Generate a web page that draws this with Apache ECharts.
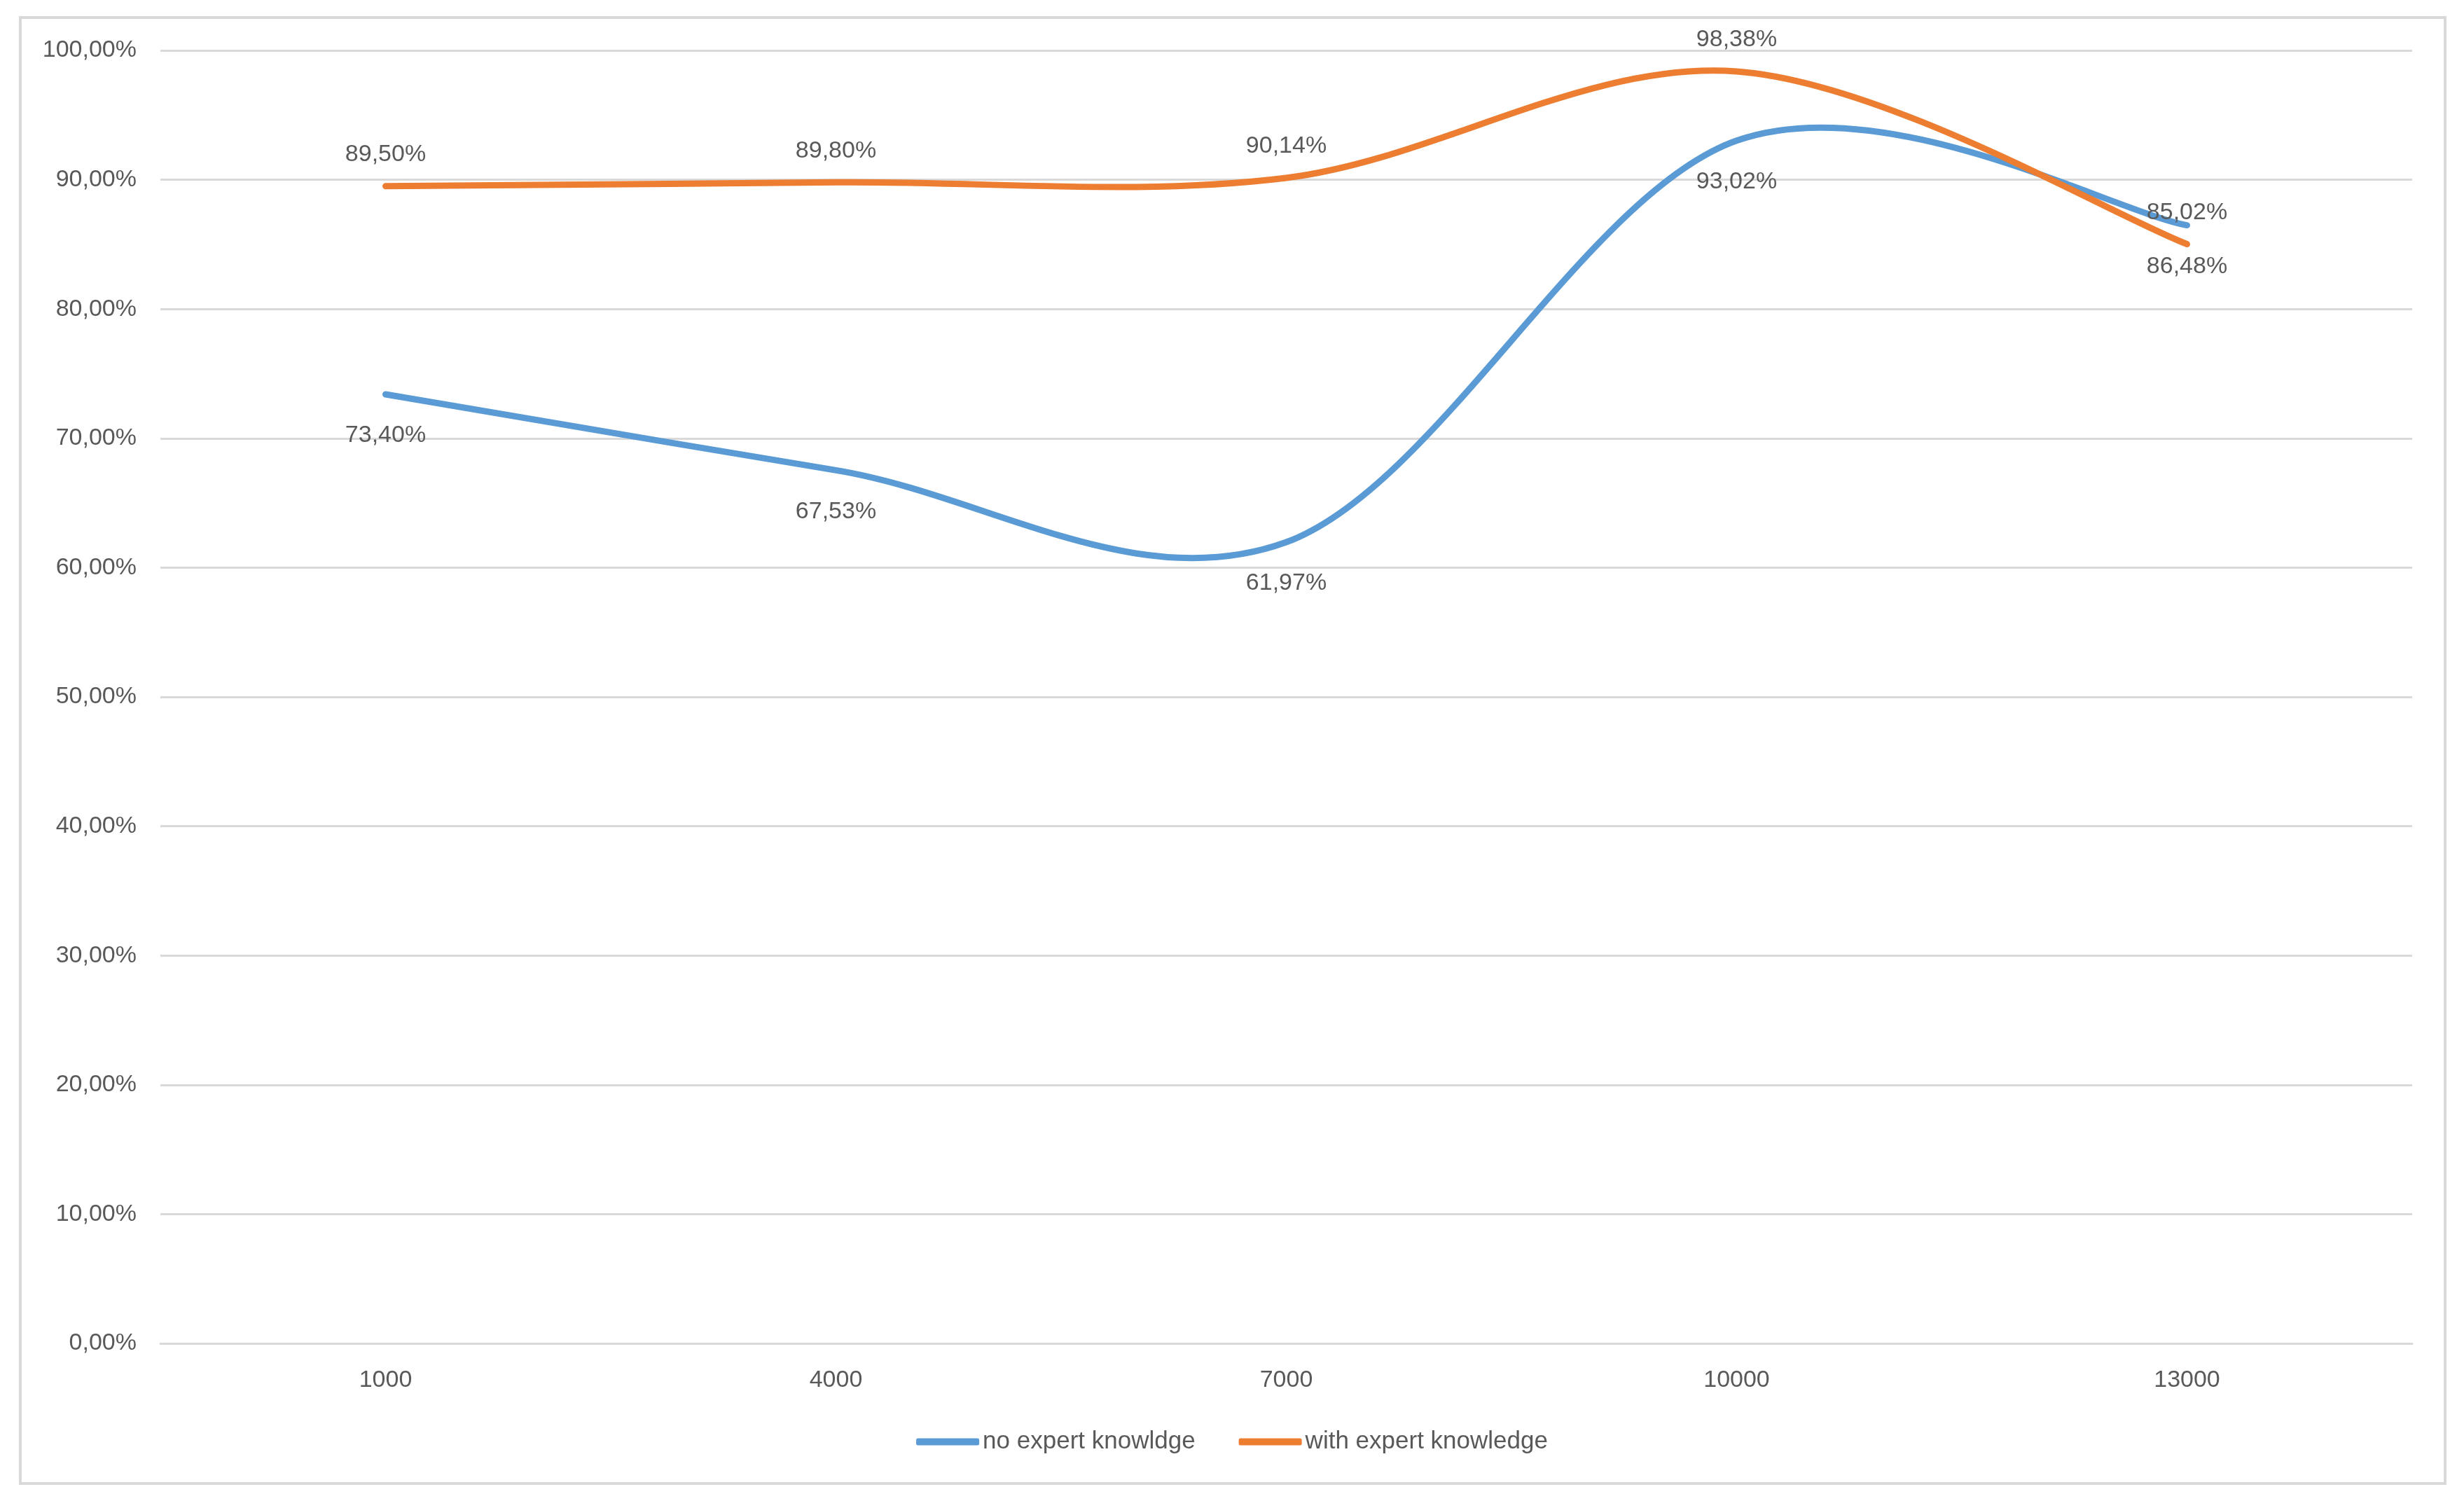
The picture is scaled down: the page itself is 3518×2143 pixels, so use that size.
<!DOCTYPE html>
<html>
<head>
<meta charset="utf-8">
<script src="https://cdn.jsdelivr.net/npm/echarts@6/dist/echarts.min.js"></script>
<style>
html,body{margin:0;padding:0;background:#fff;}
#chart{width:3518px;height:2143px;}
</style>
</head>
<body>
<div id="chart"></div>
<script>
const categories = ['1000', '4000', '7000', '10000', '13000'];
const noExpert = [73.40, 67.53, 61.97, 93.02, 86.48];
const withExpert = [89.50, 89.80, 90.14, 98.38, 85.02];
const seriesNames = ['no expert knowldge', 'with expert knowledge'];
const colors = ['#5B9BD5', '#ED7D31'];

const FONT = '"Liberation Sans", Arial, sans-serif';
const TXT = '#595959';
const fmt = v => v.toFixed(2).replace('.', ',') + '%';

// Excel-style smoothed curve (Bezier through points, control points from neighbours)
function smoothRenderer(values, color) {
  return function (params, api) {
    if (params.dataIndex !== 0) return null;
    const pts = values.map((v, i) => api.coord([i, v]));
    const n = pts.length;
    let d = 'M' + pts[0][0] + ' ' + pts[0][1];
    for (let i = 0; i < n - 1; i++) {
      const p0 = pts[Math.max(i - 1, 0)];
      const p1 = pts[i];
      const p2 = pts[i + 1];
      const p3 = pts[Math.min(i + 2, n - 1)];
      const c1x = p1[0] + (p2[0] - p0[0]) / 6;
      const c1y = p1[1] + (p2[1] - p0[1]) / 6;
      const c2x = p2[0] - (p3[0] - p1[0]) / 6;
      const c2y = p2[1] - (p3[1] - p1[1]) / 6;
      d += ' C' + c1x + ' ' + c1y + ' ' + c2x + ' ' + c2y + ' ' + p2[0] + ' ' + p2[1];
    }
    return {
      type: 'path',
      shape: { pathData: d },
      style: { stroke: color, lineWidth: 9, fill: 'none', lineCap: 'round', lineJoin: 'round' }
    };
  };
}

const chart = echarts.init(document.getElementById('chart'));
chart.setOption({
  backgroundColor: '#fff',
  animation: false,
  textStyle: { fontFamily: FONT },
  graphic: [{
    type: 'rect',
    shape: { x: 29, y: 25, width: 3462, height: 2093 },
    style: { fill: 'none', stroke: '#D9D9D9', lineWidth: 4 },
    silent: true
  }],
  grid: { left: 229, right: 74, top: 72, bottom: 225, containLabel: false },
  legend: {
    top: 2036,
    left: 'center',
    itemWidth: 90,
    itemHeight: 10,
    itemGap: 62,
    icon: 'roundRect',
    textStyle: { fontSize: 35, color: TXT, fontFamily: FONT },
    data: [
      { name: seriesNames[0], itemStyle: { color: colors[0] } },
      { name: seriesNames[1], itemStyle: { color: colors[1] } }
    ]
  },
  xAxis: {
    type: 'category',
    data: categories,
    boundaryGap: true,
    axisLine: { show: true, lineStyle: { color: '#D9D9D9', width: 3 } },
    axisTick: { show: false },
    axisLabel: { fontSize: 34, color: TXT, margin: 36, fontFamily: FONT }
  },
  yAxis: {
    type: 'value',
    min: 0,
    max: 100,
    interval: 10,
    axisLine: { show: false },
    axisTick: { show: false },
    splitLine: { lineStyle: { color: '#D9D9D9', width: 3 } },
    axisLabel: { fontSize: 34, color: TXT, margin: 34, fontFamily: FONT, formatter: v => fmt(v) }
  },
  series: [
    {
      name: seriesNames[0],
      type: 'custom',
      data: noExpert.map((v, i) => [i, v]),
      encode: { x: 0, y: 1 },
      itemStyle: { color: colors[0] },
      renderItem: smoothRenderer(noExpert, colors[0]),
      z: 3
    },
    {
      name: seriesNames[1],
      type: 'custom',
      data: withExpert.map((v, i) => [i, v]),
      encode: { x: 0, y: 1 },
      itemStyle: { color: colors[1] },
      renderItem: smoothRenderer(withExpert, colors[1]),
      z: 4
    },
    {
      name: seriesNames[0],
      type: 'line',
      data: noExpert,
      symbol: 'circle',
      symbolSize: 0,
      showSymbol: true,
      lineStyle: { color: colors[0], width: 0, opacity: 0 },
      itemStyle: { color: colors[0] },
      label: { show: true, position: 'bottom', distance: 42, fontSize: 34, color: TXT, fontFamily: FONT,
        formatter: p => fmt(p.value) },
      z: 5
    },
    {
      name: seriesNames[1],
      type: 'line',
      data: withExpert,
      symbol: 'circle',
      symbolSize: 0,
      showSymbol: true,
      lineStyle: { color: colors[1], width: 0, opacity: 0 },
      itemStyle: { color: colors[1] },
      label: { show: true, position: 'top', distance: 28, fontSize: 34, color: TXT, fontFamily: FONT,
        formatter: p => fmt(p.value) },
      z: 5
    }
  ]
});
</script>
</body>
</html>
